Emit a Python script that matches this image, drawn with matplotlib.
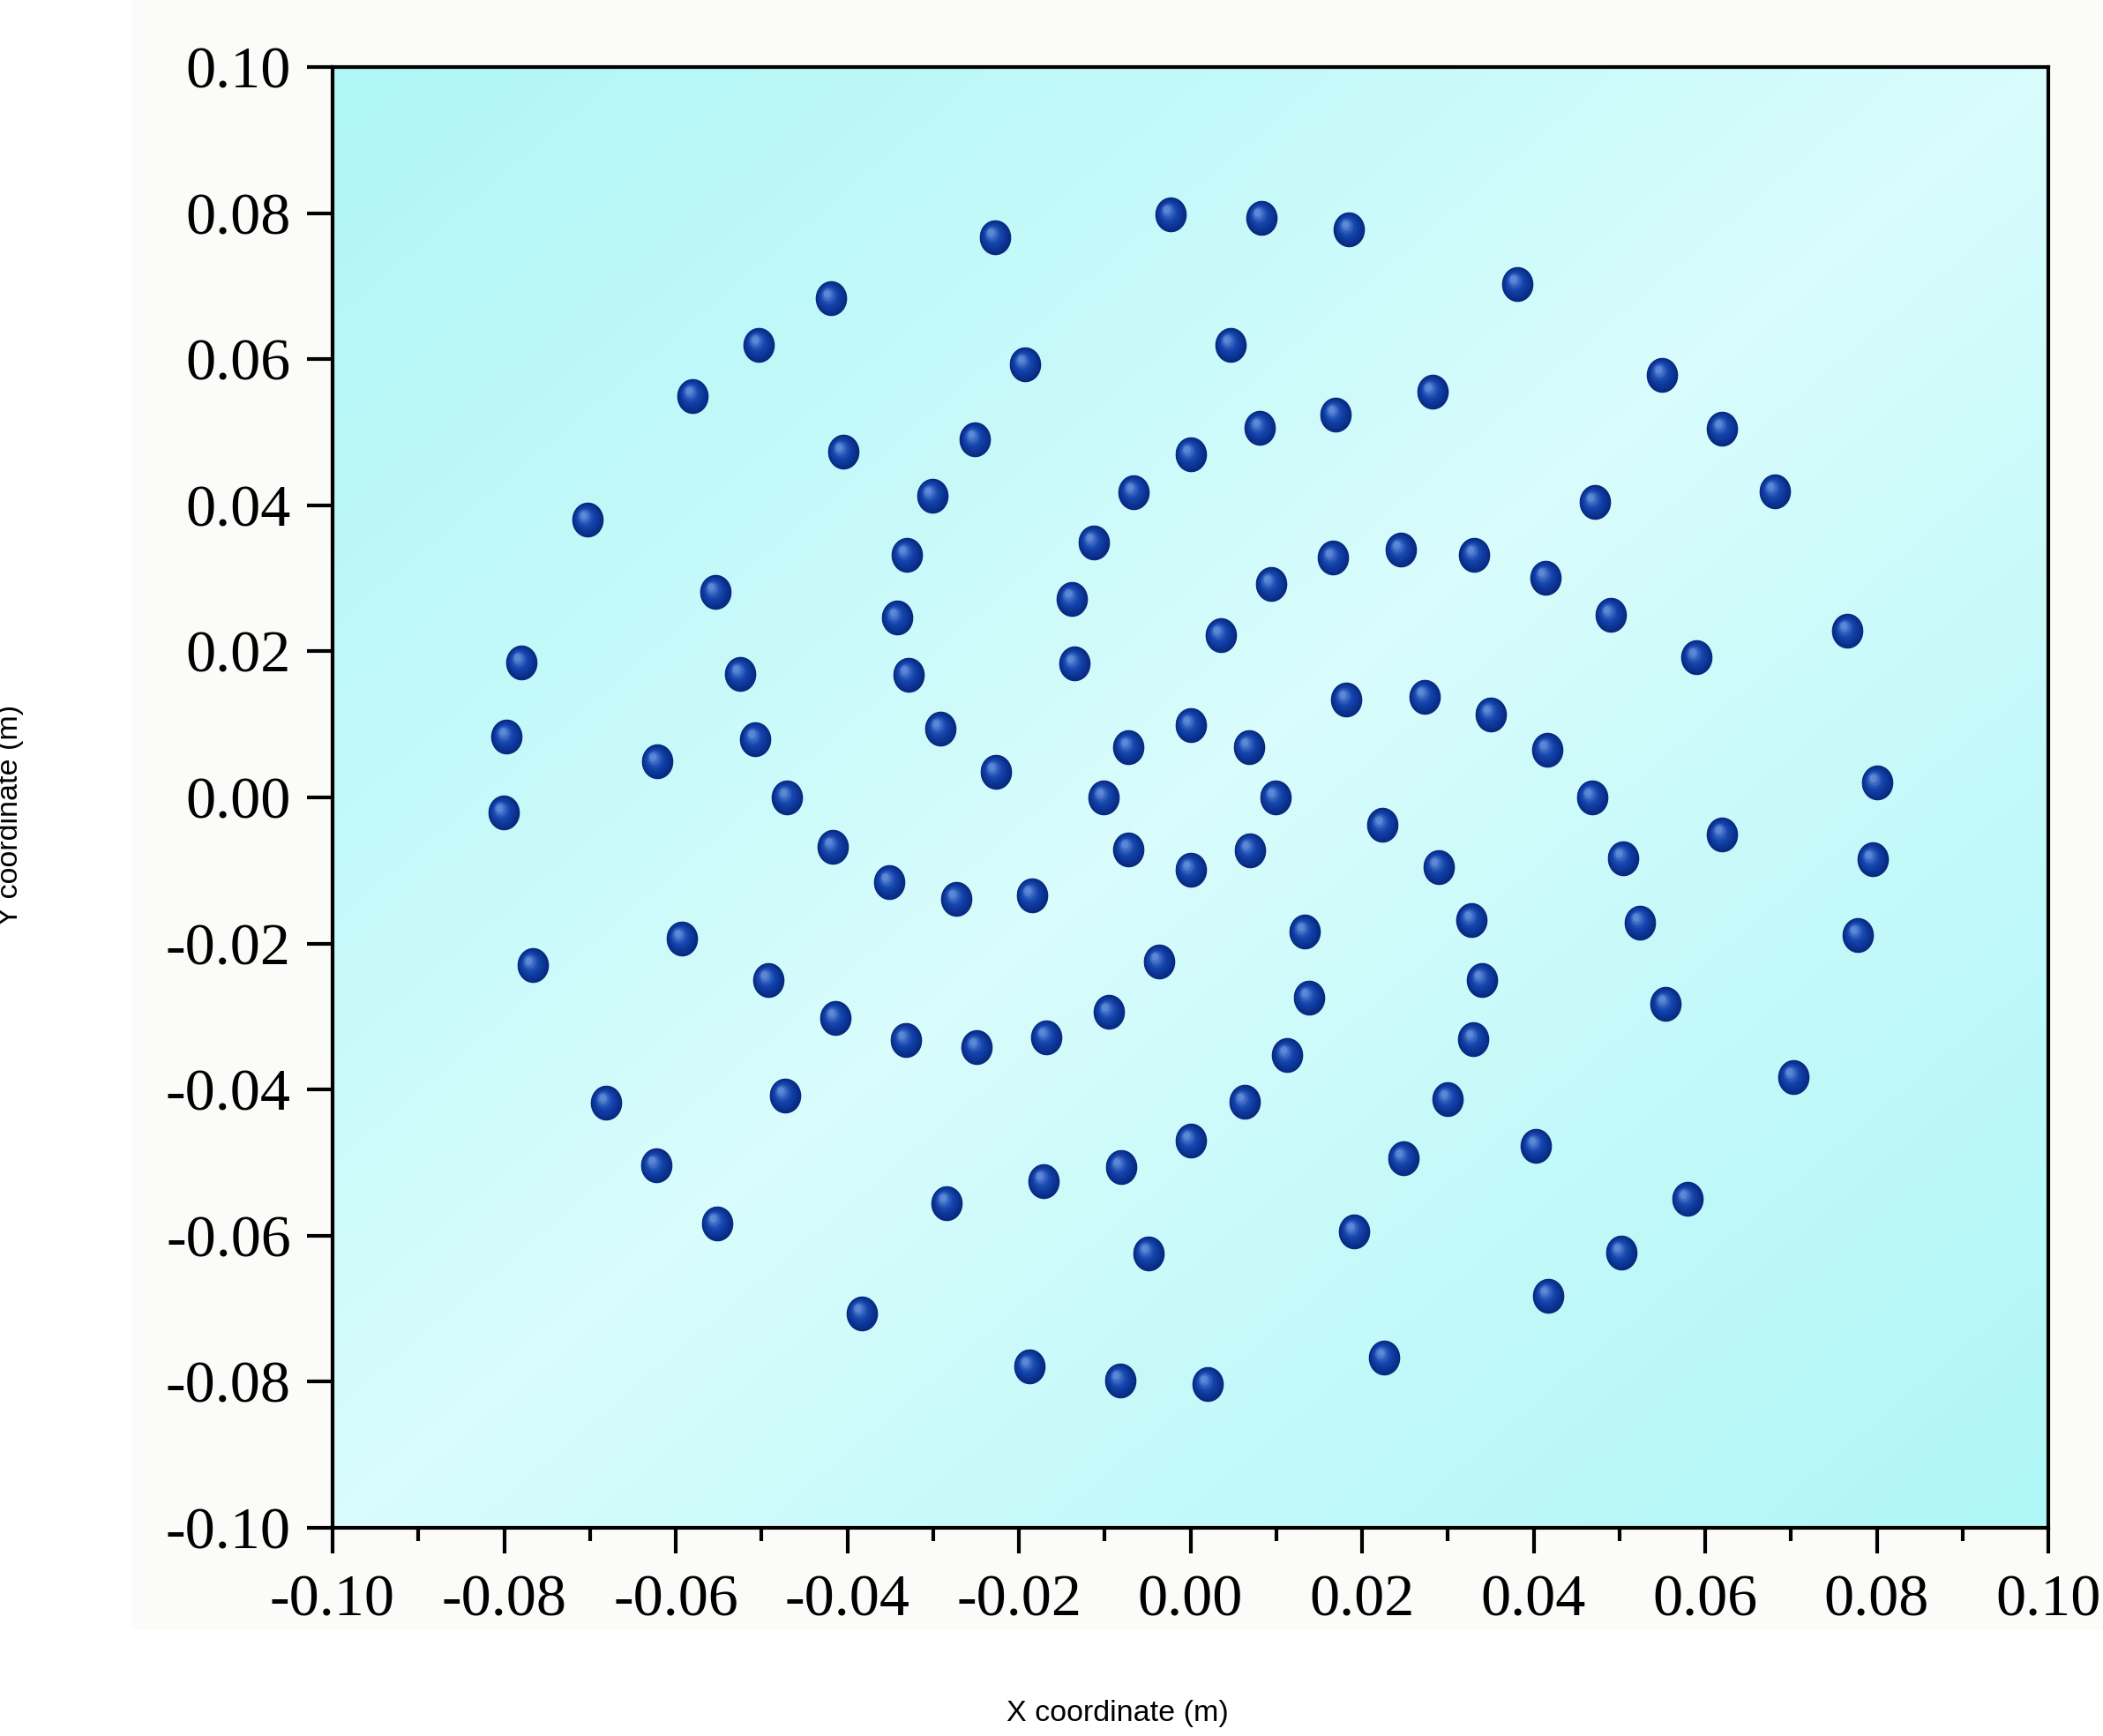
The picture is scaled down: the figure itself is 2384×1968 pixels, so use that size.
import numpy as np
import matplotlib
matplotlib.use('Agg')
import matplotlib.pyplot as plt
import matplotlib.transforms as mtransforms
from matplotlib.path import Path
from matplotlib.patches import Rectangle
from matplotlib.ticker import MultipleLocator

# positions des particules (m)
x_coord = [-0.0023, 0.0083, 0.0185, -0.0228, 0.0381, -0.0419, 0.0047, -0.0193,
           -0.0503, 0.0550, -0.0580, 0.0282, 0.0169, 0.0081, 0.0620, -0.0251,
           -0.0405, 0.0000, -0.0066, 0.0681, -0.0301, 0.0471, -0.0703, -0.0113,
           -0.0331, 0.0245, 0.0331, 0.0166, 0.0414, 0.0094, -0.0554, -0.0138,
           0.0490, -0.0342, 0.0766, 0.0035, 0.0590, -0.0780, -0.0135, -0.0525,
           -0.0329, 0.0182, 0.0273, 0.0350, 0.0000, -0.0292, -0.0797, -0.0507,
           -0.0072, 0.0068, 0.0416, -0.0622, -0.0227, 0.0800, -0.0470, -0.0101,
           0.0099, 0.0468, -0.0801, 0.0224, 0.0620, -0.0417, -0.0072, 0.0069,
           0.0795, 0.0504, 0.0000, 0.0289, -0.0351, -0.0185, -0.0273, 0.0328,
           0.0524, 0.0133, 0.0778, -0.0593, -0.0767, -0.0037, -0.0492, 0.0340,
           0.0138, 0.0554, -0.0095, -0.0414, -0.0332, -0.0168, -0.0249, 0.0330,
           0.0113, 0.0703, -0.0473, 0.0300, 0.0063, -0.0681, 0.0000, 0.0403,
           0.0248, -0.0623, -0.0081, -0.0171, 0.0579, -0.0284, -0.0552, 0.0191,
           0.0502, -0.0049, 0.0417, -0.0383, 0.0226, -0.0188, -0.0082, 0.0020]
y_coord = [0.0798, 0.0794, 0.0778, 0.0767, 0.0703, 0.0683, 0.0620, 0.0593,
           0.0620, 0.0579, 0.0550, 0.0555, 0.0524, 0.0506, 0.0505, 0.0490,
           0.0473, 0.0470, 0.0418, 0.0419, 0.0413, 0.0404, 0.0380, 0.0349,
           0.0332, 0.0339, 0.0332, 0.0328, 0.0301, 0.0292, 0.0281, 0.0272,
           0.0250, 0.0246, 0.0228, 0.0222, 0.0192, 0.0185, 0.0183, 0.0169,
           0.0168, 0.0134, 0.0138, 0.0114, 0.0099, 0.0094, 0.0083, 0.0080,
           0.0069, 0.0069, 0.0065, 0.0049, 0.0035, 0.0020, 0.0000, 0.0000,
           0.0000, 0.0000, -0.0021, -0.0038, -0.0051, -0.0068, -0.0071, -0.0072,
           -0.0085, -0.0083, -0.0099, -0.0095, -0.0116, -0.0134, -0.0139, -0.0168,
           -0.0171, -0.0184, -0.0188, -0.0193, -0.0230, -0.0225, -0.0250, -0.0250,
           -0.0274, -0.0283, -0.0294, -0.0302, -0.0332, -0.0328, -0.0342, -0.0331,
           -0.0353, -0.0383, -0.0408, -0.0413, -0.0417, -0.0418, -0.0470, -0.0477,
           -0.0494, -0.0504, -0.0506, -0.0525, -0.0550, -0.0555, -0.0583, -0.0594,
           -0.0623, -0.0624, -0.0682, -0.0706, -0.0767, -0.0779, -0.0798, -0.0803]

axis_ticks = [-0.10, -0.08, -0.06, -0.04, -0.02, 0.00, 0.02, 0.04, 0.06, 0.08, 0.10]
tick_labels = ['-0.10', '-0.08', '-0.06', '-0.04', '-0.02', '0.00',
               '0.02', '0.04', '0.06', '0.08', '0.10']


def ellipse_marker():
    # bolinha um pouco mais alta que larga
    t = np.linspace(0, 2 * np.pi, 60)
    verts = np.column_stack([0.9 * np.cos(t), np.sin(t)])
    return Path(verts, closed=True)


def background(ax):
    # degradê ciano: forte nos cantos sup-esq e inf-dir
    u = np.linspace(0, 1, 300)
    v = np.linspace(1, 0, 300)
    U, V = np.meshgrid(u, v)
    w = np.abs(U - V) ** 0.85
    light = np.array([0.855, 0.99, 0.99])
    cyan = np.array([0.69, 0.965, 0.965])
    img = light + (cyan - light) * w[..., None]
    ax.imshow(img, extent=[-0.1, 0.1, -0.1, 0.1], aspect='auto',
              interpolation='bicubic', zorder=0)


def spheres(fig, ax):
    marker = ellipse_marker()
    base = np.array([0.03, 0.16, 0.50])
    mid = np.array([0.07, 0.26, 0.67])
    hi = np.array([0.36, 0.53, 0.84])
    size = 28.5
    n = 12
    for k in range(n):
        f = k / (n - 1)
        s = size * (1 - 0.8 * f)
        if f < 0.5:
            color = base + (mid - base) * (f / 0.5)
        else:
            color = mid + (hi - mid) * ((f - 0.5) / 0.5) ** 1.3
        trans = mtransforms.offset_copy(ax.transData, fig=fig,
                                        x=-3.4 * f, y=4.2 * f, units='points')
        ax.scatter(x_coord, y_coord, s=s ** 2, marker=marker, c=[color],
                   linewidths=0, transform=trans, zorder=3 + k)


def chart_configs(ax):
    ax.set_xlim(-0.1, 0.1)
    ax.set_ylim(-0.1, 0.1)
    ax.set_xticks(axis_ticks)
    ax.set_yticks(axis_ticks)
    ax.set_xticklabels(tick_labels)
    ax.set_yticklabels(tick_labels)
    ax.xaxis.set_minor_locator(MultipleLocator(0.01))
    for lab in ax.get_xticklabels() + ax.get_yticklabels():
        lab.set_fontfamily('Liberation Serif')
        lab.set_fontsize(49)
    ax.tick_params(which='major', direction='out', length=21, width=3)
    ax.tick_params(which='minor', direction='out', length=11, width=3)
    ax.tick_params(axis='x', pad=17)
    ax.tick_params(axis='y', pad=13)
    ax.tick_params(top=False, right=False)
    for sp in ax.spines.values():
        sp.set_linewidth(3)


def main():
    fig = plt.figure(figsize=(23.84, 19.68), dpi=100)
    fig.patch.set_facecolor('white')
    fig.patches.append(Rectangle((150 / 2384, 1 - 1847 / 1968), 1, 1847 / 1968,
                                 transform=fig.transFigure, color='#fbfbf9',
                                 zorder=-10))
    ax = fig.add_axes([377 / 2384, 1 - 1732 / 1968, 1945 / 2384, 1656 / 1968])
    background(ax)
    spheres(fig, ax)
    chart_configs(ax)

    fig.text(1267 / 2384, 1 - 1942 / 1968, 'X coordinate (m)', ha='center',
             va='center', fontsize=24.5, family='Liberation Sans')
    fig.text(12 / 2384, 1 - 924 / 1968, 'Y coordinate (m)', ha='center',
             va='center', rotation=90, fontsize=24.5, family='Liberation Sans')
    fig.savefig('out.png', dpi=100)


main()
